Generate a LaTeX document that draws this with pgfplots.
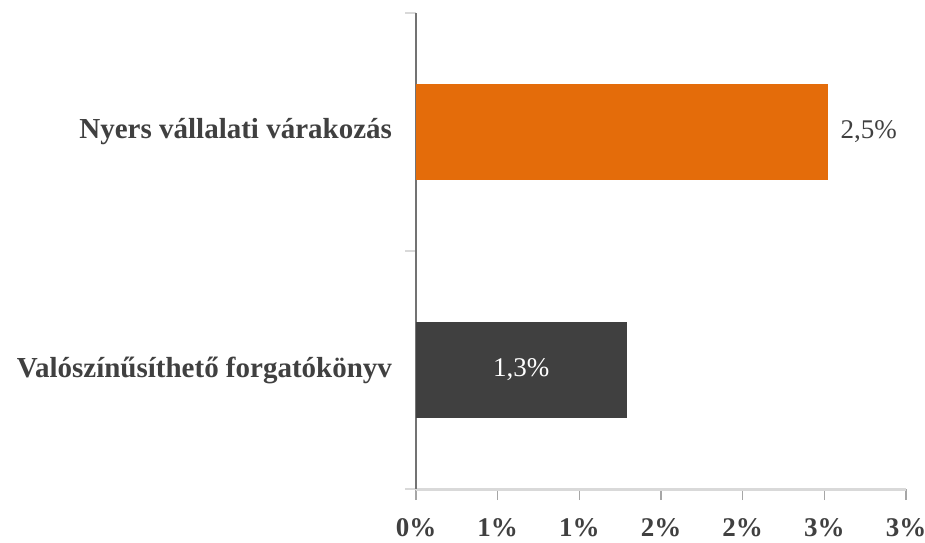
\documentclass[border=0pt]{standalone}
\usepackage{fontspec}
\setmainfont{Liberation Serif}
\usepackage{pgfplots}
\pgfplotsset{compat=1.18}
\definecolor{barorange}{HTML}{E46C0A}
\definecolor{bardark}{HTML}{404040}
\definecolor{txt}{HTML}{404040}
\begin{document}
\begin{tikzpicture}
\path[use as bounding box] (0,0) rectangle (462.5pt,271pt);
\begin{axis}[
  at={(208pt,26.5pt)}, anchor=south west,
  scale only axis,
  width=245pt, height=238pt,
  xbar, bar width=0.4, bar shift=0pt,
  xmin=0, xmax=3,
  ymin=-0.5, ymax=1.5,
  axis x line*=bottom, axis y line*=left,
  x axis line style={-, draw=black!15, line width=1.5pt},
  y axis line style={-, draw=black!55, line width=0.8pt},
  xtick={0,0.5,1,1.5,2,2.5,3},
  xticklabels={0\%,1\%,1\%,2\%,2\%,3\%,3\%},
  ytick={-0.5,0.5,1.5},
  yticklabels={Valószínűsíthető forgatókönyv, Nyers vállalati várakozás, {}},
  y tick label as interval,
  tick align=outside,
  major tick length=5.5pt,
  x tick style={draw=black!35, line width=0.6pt},
  y tick style={draw=black!15, line width=1pt},
  tick label style={text=txt},
  yticklabel style={font=\fontsize{14.5}{16}\selectfont\bfseries, xshift=-3pt},
  xticklabel style={font=\fontsize{13.5}{15}\selectfont\bfseries, yshift=-5.5pt},
  clip=false,
]
\addplot[fill=bardark, draw=none, bar shift=0pt,
  nodes near coords={1,3\%},
  every node near coord/.append style={anchor=center, xshift=-52.7pt, text=white, font=\fontsize{13.5}{15}\selectfont}]
  coordinates {(1.29,0)};
\addplot[fill=barorange, draw=none, bar shift=0pt,
  nodes near coords={2,5\%},
  every node near coord/.append style={anchor=west, xshift=3pt, text=txt, font=\fontsize{13.5}{15}\selectfont}]
  coordinates {(2.52,1)};
\end{axis}
\end{tikzpicture}
\end{document}
